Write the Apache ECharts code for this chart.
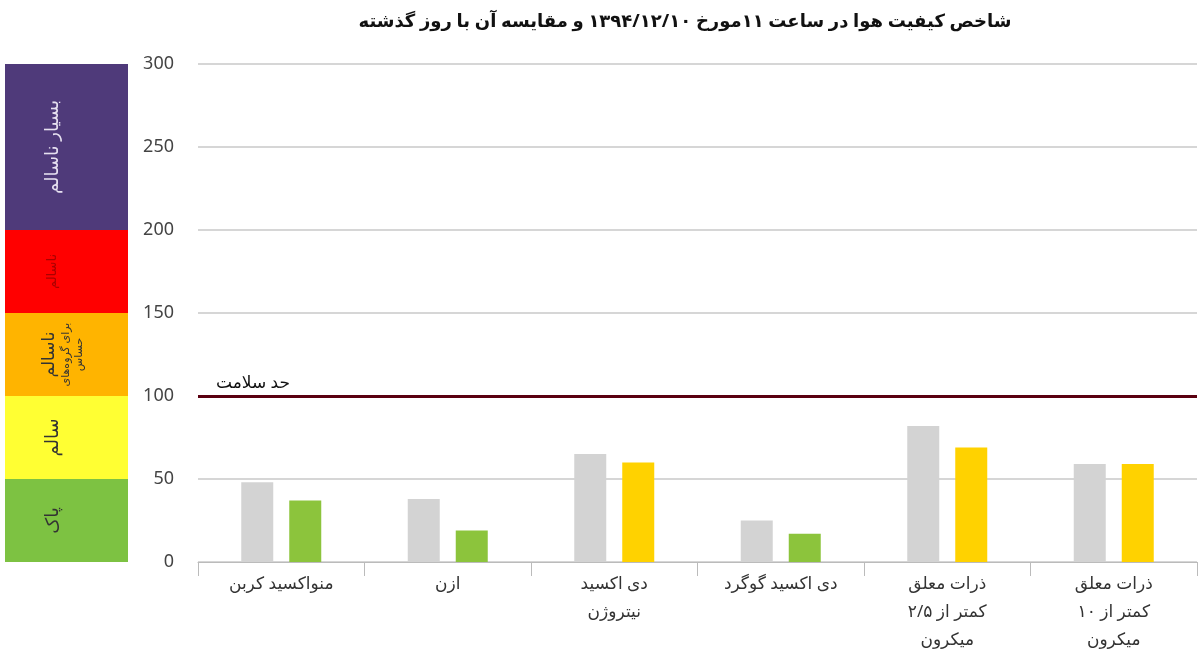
<!DOCTYPE html><html><head><meta charset="utf-8"><script src="https://cdn.jsdelivr.net/npm/echarts@6/dist/echarts.min.js"></script>
<style>html,body{margin:0;background:#fff}#c{width:1200px;height:659px}</style></head><body><div id="c"></div><script>
const categories=['منواکسید کربن','ازن','دی اکسید\nنیتروژن','دی اکسید گوگرد','ذرات معلق\nکمتر از ۲/۵\nمیکرون','ذرات معلق\nکمتر از ۱۰\nمیکرون'];
const yesterday=[48,38,65,25,82,59];
const today=[37,19,60,17,69,59];
const todayColors=['#8cc43c','#8cc43c','#ffd200','#8cc43c','#ffd200','#ffd200'];
const bandSizes=[50,50,50,50,100];
const bandLabels=['پاک','سالم','{m|ناسالم}\n{s|برای گروه‌های}\n{s|حساس}','ناسالم','بسیار ناسالم'];
const bandColors=['#7dc242','#ffff33','#ffb400','#ff0000','#4f3a7a'];
const healthLimit=100;
const font='"Noto Sans", "DejaVu Sans", sans-serif';
const chart=echarts.init(document.getElementById('c'));
chart.setOption({
 animation:false,
 title:{text:'شاخص کیفیت هوا در ساعت ۱۱مورخ ۱۳۹۴/۱۲/۱۰ و مقایسه آن با روز گذشته',left:680,top:8,textAlign:'center',textStyle:{fontFamily:font,fontSize:18,fontWeight:'bold',color:'#111'}},
 grid:[{left:198,right:3,top:64,bottom:97},{left:5,width:123,top:64,bottom:97}],
 xAxis:[{type:'category',data:categories,gridIndex:0,axisLine:{lineStyle:{color:'#bbb'}},axisTick:{show:true,length:14,lineStyle:{color:'#bbb'}},axisLabel:{fontFamily:font,fontSize:17,color:'#333',lineHeight:28,margin:8}},
  {type:'category',data:['a'],gridIndex:1,show:false}],
 yAxis:[{type:'value',min:0,max:300,interval:50,gridIndex:0,axisLabel:{fontFamily:font,fontSize:18,color:'#444',margin:24},splitLine:{lineStyle:{color:'#c8c8c8',width:1.5}},axisLine:{show:false},axisTick:{show:false}},
  {type:'value',min:0,max:300,gridIndex:1,show:false}],
 series:[
  {type:'bar',data:yesterday,barWidth:32,barGap:'50%',itemStyle:{color:'#d3d3d3'},
   markLine:{symbol:'none',silent:true,data:[{yAxis:healthLimit}],lineStyle:{color:'#5a0010',width:3,type:'solid'},label:{show:true,position:'insideStartTop',distance:[18,4],formatter:'حد سلامت',fontFamily:font,fontSize:17,color:'#111'}}},
  {type:'bar',data:today.map((v,i)=>({value:v,itemStyle:{color:todayColors[i]}})),barWidth:32},
  ...bandSizes.map((s,i)=>({type:'bar',stack:'b',xAxisIndex:1,yAxisIndex:1,barWidth:'100%',data:[s],itemStyle:{color:bandColors[i]},
   label:{show:true,position:'inside',rotate:90,offset:[0,i==2?-4:-14],formatter:bandLabels[i],fontFamily:font,fontSize:i==3?13:18,color:i==4?'#e6e0f0':(i==3?'#a00':'#333'),
    rich:{m:{fontSize:17,fontFamily:font,color:'#333',lineHeight:20},s:{fontSize:11,fontFamily:font,color:'#333',lineHeight:13}}}}))
 ]
});
</script></body></html>
